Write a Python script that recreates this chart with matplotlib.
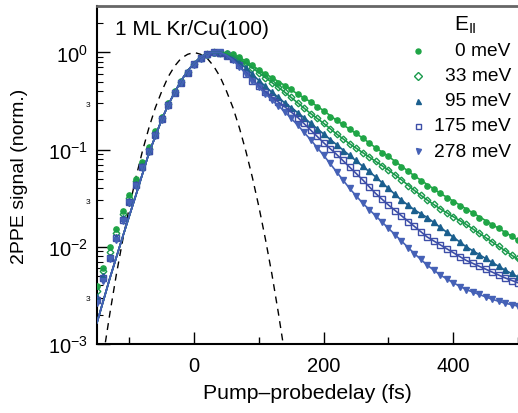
"""
2PPE pump-probe traces for 1 ML Kr/Cu(100) at several parallel momenta.
"""

import numpy as np
import matplotlib
matplotlib.use("Agg")
import matplotlib.pyplot as plt
from matplotlib.ticker import LogLocator, FuncFormatter, MultipleLocator

plt.rcParams.update({
    "font.family": ["Liberation Sans", "DejaVu Sans"],
    "mathtext.fontset": "custom",
    "mathtext.rm": "Liberation Sans",
    "mathtext.it": "Liberation Sans:italic",
    "mathtext.bf": "Liberation Sans:bold",
})

# measured delays (fs), one point every 10 fs
delay = [-150, -140, -130, -120, -110, -100, -90, -80, -70, -60,
         -50, -40, -30, -20, -10, 0, 10, 20, 30, 40,
         50, 60, 70, 80, 90, 100, 110, 120, 130, 140,
         150, 160, 170, 180, 190, 200, 210, 220, 230, 240,
         250, 260, 270, 280, 290, 300, 310, 320, 330, 340,
         350, 360, 370, 380, 390, 400, 410, 420, 430, 440,
         450, 460, 470, 480, 490, 500]

# data, log10 of normalised signal
log_0mev = [-2.40, -2.22, -2.00, -1.82, -1.63, -1.47, -1.30, -1.13, -0.97, -0.81,
            -0.66, -0.52, -0.40, -0.29, -0.20, -0.12, -0.06, -0.03, -0.01, 0.00,
            -0.01, -0.02, -0.05, -0.09, -0.13, -0.18, -0.22, -0.26, -0.31, -0.35,
            -0.38, -0.43, -0.47, -0.51, -0.56, -0.60, -0.66, -0.70, -0.74, -0.79,
            -0.83, -0.88, -0.93, -0.98, -1.03, -1.07, -1.13, -1.18, -1.22, -1.27,
            -1.32, -1.37, -1.41, -1.45, -1.50, -1.54, -1.58, -1.62, -1.65, -1.70,
            -1.74, -1.78, -1.81, -1.86, -1.89, -1.93]
log_33mev = [-2.45, -2.25, -2.05, -1.86, -1.66, -1.50, -1.32, -1.15, -0.99, -0.83,
             -0.67, -0.53, -0.41, -0.30, -0.20, -0.12, -0.06, -0.02, 0.00, -0.01,
             -0.02, -0.04, -0.07, -0.11, -0.16, -0.21, -0.26, -0.31, -0.36, -0.41,
             -0.46, -0.52, -0.57, -0.63, -0.68, -0.73, -0.79, -0.84, -0.89, -0.94,
             -0.98, -1.03, -1.08, -1.12, -1.17, -1.21, -1.26, -1.31, -1.37, -1.42,
             -1.47, -1.52, -1.56, -1.61, -1.65, -1.69, -1.73, -1.77, -1.82, -1.86,
             -1.90, -1.95, -1.99, -2.04, -2.08, -2.12]
log_95mev = [-2.52, -2.30, -2.10, -1.90, -1.70, -1.53, -1.35, -1.17, -1.01, -0.84,
             -0.68, -0.53, -0.41, -0.30, -0.20, -0.12, -0.06, -0.02, 0.00, -0.01,
             -0.03, -0.06, -0.10, -0.16, -0.22, -0.29, -0.35, -0.41, -0.46, -0.52,
             -0.57, -0.62, -0.68, -0.73, -0.79, -0.84, -0.90, -0.95, -1.01, -1.06,
             -1.11, -1.17, -1.22, -1.28, -1.34, -1.40, -1.46, -1.52, -1.57, -1.62,
             -1.66, -1.70, -1.75, -1.80, -1.85, -1.90, -1.95, -2.00, -2.04, -2.08,
             -2.12, -2.16, -2.20, -2.24, -2.27, -2.31]
log_175mev = [-2.55, -2.32, -2.12, -1.91, -1.72, -1.54, -1.36, -1.18, -1.01, -0.85,
              -0.69, -0.54, -0.42, -0.31, -0.21, -0.12, -0.06, -0.02, 0.00, -0.01,
              -0.04, -0.07, -0.13, -0.22, -0.29, -0.35, -0.41, -0.46, -0.51, -0.56,
              -0.61, -0.67, -0.73, -0.80, -0.86, -0.93, -0.99, -1.05, -1.11, -1.18,
              -1.24, -1.31, -1.38, -1.45, -1.51, -1.57, -1.63, -1.68, -1.74, -1.79,
              -1.85, -1.90, -1.94, -1.98, -2.02, -2.06, -2.10, -2.14, -2.17, -2.20,
              -2.23, -2.26, -2.29, -2.32, -2.35, -2.37]
log_278mev = [-2.58, -2.35, -2.13, -1.93, -1.73, -1.55, -1.37, -1.19, -1.02, -0.86,
              -0.70, -0.55, -0.42, -0.31, -0.21, -0.13, -0.07, -0.03, -0.01, 0.00,
              -0.03, -0.08, -0.15, -0.22, -0.29, -0.36, -0.43, -0.49, -0.55, -0.61,
              -0.68, -0.75, -0.82, -0.90, -0.98, -1.06, -1.14, -1.23, -1.31, -1.40,
              -1.48, -1.55, -1.62, -1.68, -1.75, -1.81, -1.88, -1.94, -2.01, -2.07,
              -2.13, -2.19, -2.24, -2.29, -2.33, -2.37, -2.41, -2.44, -2.47, -2.49,
              -2.52, -2.54, -2.56, -2.58, -2.60, -2.61]

# fitted curves (log10), rising edge is shared by all energies
fit_delay = [-150, -130, -110, -90, -70, -50, -40, -30, -20, -10, 0, 10, 20, 30, 40,
             50, 60, 80, 100, 120, 140, 160, 180, 200, 220, 240, 260,
             280, 300, 320, 340, 360, 380, 400, 420, 440, 460, 480, 500]
fit_rise = [-2.78, -2.32, -1.89, -1.47, -1.04, -0.69, -0.54, -0.41, -0.29, -0.19,
            -0.11, -0.05, -0.01, 0.00, 0.00]
fit_tail_0mev = [-0.005, -0.02, -0.09, -0.18, -0.26, -0.34, -0.43, -0.51, -0.60, -0.70, -0.79, -0.88,
                 -0.98, -1.07, -1.17, -1.27, -1.36, -1.45, -1.53, -1.61, -1.69, -1.77, -1.85, -1.93]
fit_tail_33mev = [-0.02, -0.04, -0.11, -0.21, -0.31, -0.41, -0.52, -0.63, -0.73, -0.84, -0.94, -1.03,
                  -1.12, -1.21, -1.31, -1.42, -1.52, -1.61, -1.69, -1.77, -1.86, -1.95, -2.04, -2.13]
fit_tail_95mev = [-0.03, -0.06, -0.16, -0.29, -0.41, -0.52, -0.62, -0.73, -0.84, -0.95, -1.06, -1.17,
                  -1.28, -1.40, -1.52, -1.62, -1.70, -1.80, -1.90, -2.00, -2.08, -2.16, -2.24, -2.31]
fit_tail_175mev = [-0.04, -0.07, -0.21, -0.35, -0.46, -0.56, -0.67, -0.80, -0.93, -1.05, -1.18, -1.31,
                   -1.45, -1.57, -1.68, -1.79, -1.90, -1.98, -2.06, -2.14, -2.20, -2.26, -2.32, -2.37]
fit_tail_278mev = [-0.03, -0.08, -0.22, -0.36, -0.49, -0.61, -0.75, -0.90, -1.06, -1.23, -1.40, -1.55,
                   -1.68, -1.81, -1.94, -2.07, -2.19, -2.29, -2.37, -2.44, -2.49, -2.54, -2.58, -2.61]

# pump-probe cross correlation (dashed)
xc_delay = [-140, -130, -120, -110, -100, -90, -80, -70, -60, -50, -40, -30, -20, -10,
            0, 10, 20, 30, 40, 50, 60, 70, 80, 90, 100, 110, 120, 130, 140]
log_xc = [-3.11, -2.68, -2.28, -1.92, -1.59, -1.29, -1.02, -0.78, -0.57, -0.40, -0.25, -0.14, -0.06, -0.02,
          0.00, -0.02, -0.06, -0.14, -0.25, -0.40, -0.57, -0.78, -1.02, -1.29, -1.59, -1.92, -2.28, -2.68, -3.11]

labels = ["0 meV", "33 meV", "95 meV", "175 meV", "278 meV"]
data_sets = [log_0mev, log_33mev, log_95mev, log_175mev, log_278mev]
fit_tails = [fit_tail_0mev, fit_tail_33mev, fit_tail_95mev, fit_tail_175mev, fit_tail_278mev]
colors = ["#1fa546", "#1a9a4c", "#1b5f8e", "#3d4ea8", "#4561b6"]
markers = ["o", "D", "^", "s", "v"]
filled = [True, False, True, False, True]
msizes = [3.8, 3.4, 4.0, 3.8, 4.0]

for d in data_sets:
    assert len(d) == len(delay)
for f in fit_tails:
    assert len(fit_rise) + len(f) == len(fit_delay)

fig = plt.figure(figsize=(5.18, 4.14), dpi=100)
ax = fig.add_axes([97 / 518, 69 / 414, 421 / 518, 338 / 414])

ax.plot(xc_delay, 10 ** np.array(log_xc), color="black", lw=1.0,
        linestyle=(0, (5, 4)), zorder=2)

for lab, d, ft, c, m, fl, ms in zip(labels, data_sets, fit_tails, colors,
                                    markers, filled, msizes):
    ax.plot(delay, 10 ** np.array(d), linestyle="none", marker=m, ms=ms,
            color=c, mfc=c if fl else "none", mec=c, mew=1.0, zorder=3)
    ax.plot(fit_delay, 10 ** np.array(fit_rise + ft), color=c, lw=1.2, zorder=4)

ax.set_yscale("log")
ax.set_xlim(-150, 500)
ax.set_ylim(1e-3, 3)

ax.xaxis.set_major_locator(MultipleLocator(200))
ax.xaxis.set_minor_locator(MultipleLocator(100))
ax.yaxis.set_major_locator(LogLocator(base=10, numticks=10))
ax.yaxis.set_minor_locator(LogLocator(base=10, subs=np.arange(2, 10), numticks=20))


def minor_fmt(v, pos):
    mant = v / 10 ** np.floor(np.log10(v) + 1e-9)
    if abs(mant - 3) < 0.01 and v < 1:
        return "3"
    return ""


ax.yaxis.set_minor_formatter(FuncFormatter(minor_fmt))

ax.tick_params(axis="both", which="major", direction="in", length=9,
               width=1.0, labelsize=14.5)
ax.tick_params(axis="x", which="major", pad=9)
ax.tick_params(axis="y", which="major", pad=6.5)
ax.tick_params(axis="x", which="minor", direction="in", length=5, width=1.0)
ax.tick_params(axis="y", which="minor", direction="in", length=4, width=0.8,
               labelsize=6, pad=5)

ax.spines["right"].set_visible(False)
ax.spines["left"].set_linewidth(1.5)
ax.spines["bottom"].set_linewidth(1.5)
ax.spines["top"].set_linewidth(2.0)
ax.spines["top"].set_color("#666666")

ax.set_xlabel("Pump\u2013probedelay (fs)", fontsize=15.3)
ax.set_ylabel("2PPE signal (norm.)", fontsize=14)
ax.xaxis.set_label_coords(0.5, -0.115)
ax.yaxis.set_label_coords(-0.165, 0.5)

ax.text(0.043, 0.932, "1 ML Kr/Cu(100)", transform=ax.transAxes,
        fontsize=15, ha="left", va="center")

# hand-placed legend: markers on the left, labels right aligned
ax.text(0.876, 0.945, r"E$_{\mathregular{II}}$", transform=ax.transAxes,
        fontsize=15, ha="center", va="center")
row_y = [0.867, 0.793, 0.719, 0.645, 0.571]
for lab, c, m, fl, yy in zip(labels, colors, markers, filled, row_y):
    ax.plot([0.7625], [yy], transform=ax.transAxes, marker=m, ms=3.6,
            color=c, mfc=c if fl else "none", mec=c, mew=1.0,
            linestyle="none", clip_on=False)
    ax.text(0.983, yy, lab, transform=ax.transAxes, fontsize=13.8,
            ha="right", va="center")

fig.savefig("out.png", dpi=100)
